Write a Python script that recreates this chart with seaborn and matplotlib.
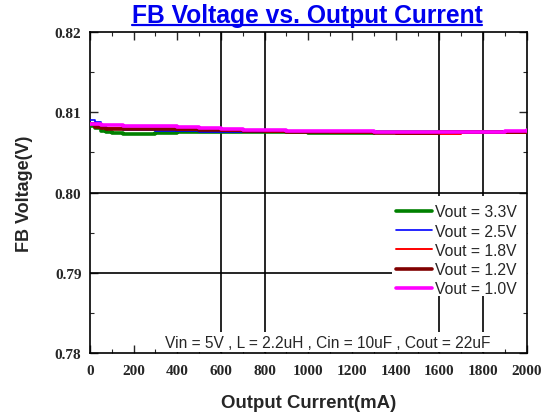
import numpy as np
import pandas as pd
import matplotlib
matplotlib.use("Agg")
import matplotlib.pyplot as plt
import seaborn as sns
from matplotlib.lines import Line2D
from matplotlib.patches import Rectangle
from matplotlib.ticker import MultipleLocator

sns.set_style("white")
plt.rcParams['font.family'] = ['Liberation Sans', 'DejaVu Sans']

current = [0, 25, 50, 75, 100, 150, 200, 300, 400, 500, 600, 700, 800, 900, 1000,
           1100, 1200, 1300, 1400, 1500, 1600, 1700, 1800, 1900, 2000]
v33 = [0.8083, 0.8080, 0.8077, 0.8075, 0.8074, 0.8073, 0.8073, 0.8074, 0.8075, 0.8076, 0.8076, 0.8076, 0.8076, 0.8075, 0.8074,
       0.8074, 0.8074, 0.8075, 0.8075, 0.8075, 0.8075, 0.8075, 0.8075, 0.8075, 0.8075]
v25 = [0.8090, 0.8088, 0.8083, 0.8080, 0.8079, 0.8078, 0.8078, 0.8077, 0.8077, 0.8076, 0.8076, 0.8076, 0.8076, 0.8076, 0.8076,
       0.8075, 0.8075, 0.8075, 0.8075, 0.8075, 0.8075, 0.8075, 0.8075, 0.8075, 0.8075]
v18 = [0.8086, 0.8083, 0.8081, 0.8080, 0.8080, 0.8079, 0.8079, 0.8079, 0.8078, 0.8078, 0.8077, 0.8077, 0.8076, 0.8075, 0.8075,
       0.8074, 0.8074, 0.8074, 0.8073, 0.8073, 0.8073, 0.8074, 0.8074, 0.8074, 0.8074]
v12 = [0.8085, 0.8082, 0.8080, 0.8079, 0.8079, 0.8079, 0.8079, 0.8079, 0.8079, 0.8078, 0.8078, 0.8077, 0.8077, 0.8076, 0.8076,
       0.8075, 0.8075, 0.8074, 0.8074, 0.8074, 0.8075, 0.8075, 0.8075, 0.8075, 0.8075]
v10 = [0.8086, 0.8085, 0.8084, 0.8084, 0.8084, 0.8083, 0.8083, 0.8083, 0.8082, 0.8080, 0.8079, 0.8078, 0.8078, 0.8077, 0.8077,
       0.8077, 0.8077, 0.8076, 0.8076, 0.8076, 0.8076, 0.8076, 0.8076, 0.8077, 0.8078]
series_names = ["Vout = 3.3V", "Vout = 2.5V", "Vout = 1.8V", "Vout = 1.2V", "Vout = 1.0V"]
series_vals = [v33, v25, v18, v12, v10]
colors = ["#008000", "#0000ff", "#ff0000", "#800000", "#ff00ff"]
widths = [2.6, 1.2, 1.4, 2.6, 2.6]
xticks = list(range(0, 2001, 200))
yticks = [0.78, 0.79, 0.80, 0.81, 0.82]

df = pd.concat([pd.DataFrame({"I": current, "V": vals, "s": name})
                for name, vals in zip(series_names, series_vals)], ignore_index=True)

fig = plt.figure(figsize=(5.51, 4.14), dpi=100)
ax = fig.add_axes([0.163, 0.145, 0.793, 0.775])

for name, c, w in zip(series_names, colors, widths):
    sub = df[df["s"] == name]
    sns.lineplot(data=sub, x="I", y="V", ax=ax, color=c, linewidth=w, label=name,
                 drawstyle="steps-post", zorder=3)

for xv in [600, 800, 1600, 1800]:
    ax.axvline(xv, color="black", linewidth=1.2, zorder=1)
for yv in [0.80, 0.79]:
    ax.axhline(yv, color="black", linewidth=1.2, zorder=1)

# white background behind legend
ax.add_patch(Rectangle((0.691, 0.178), 0.309, 0.311, transform=ax.transAxes,
                       facecolor="white", edgecolor="none", zorder=2))

ax.set_xlim(0, 2000)
ax.set_ylim(0.78, 0.82)
ax.xaxis.set_minor_locator(MultipleLocator(100))
ax.yaxis.set_minor_locator(MultipleLocator(0.005))
ax.tick_params(which="both", direction="in", top=True, right=True, bottom=True, left=True)
ax.tick_params(which="major", length=6, width=1.0, labelsize=11)
ax.tick_params(which="minor", length=3, width=0.8)
ax.tick_params(axis="x", which="major", pad=8)
ax.tick_params(axis="y", which="major", pad=6)
ax.set_yticks(yticks)
ax.set_yticklabels([f"{v:.2f}" for v in yticks], fontweight="bold", family=["Liberation Serif"])
ax.set_xticks(xticks)
ax.set_xticklabels([str(v) for v in xticks], fontweight="bold", family=["Liberation Serif"])
for sp in ax.spines.values():
    sp.set_color("black")
    sp.set_linewidth(1.2)

ax.set_xlabel("Output Current(mA)", fontsize=13.4, fontweight="bold", labelpad=12)
ax.set_ylabel("FB Voltage(V)", fontsize=13, fontweight="bold", labelpad=16)

ax.text(0.545, 0.034, "Vin = 5V , L = 2.2uH , Cin = 10uF , Cout = 22uF", transform=ax.transAxes,
        ha="center", va="center", fontsize=11.2, zorder=4,
        bbox=dict(facecolor="white", edgecolor="none", pad=2))

leg = ax.legend(loc="upper left", bbox_to_anchor=(0.700, 0.463), frameon=False, fontsize=11.3,
                handlelength=2.3, handletextpad=0.2, labelspacing=0.27, borderaxespad=0,
                borderpad=0)
leg.set_zorder(5)
for h, w in zip(leg.get_lines(), widths):
    h.set_linewidth(w)

title = fig.text(0.557, 0.961, "FB Voltage vs. Output Current", ha="center", va="center",
                 fontsize=17.7, fontweight="bold", color="#0000ee")
fig.canvas.draw()
bb = title.get_window_extent(fig.canvas.get_renderer()).transformed(fig.transFigure.inverted())
fig.add_artist(Line2D([bb.x0, bb.x1], [bb.y0 + 0.004, bb.y0 + 0.004], color="#0000ee",
                      linewidth=1.6, transform=fig.transFigure))

fig.savefig("out.png", dpi=100)
